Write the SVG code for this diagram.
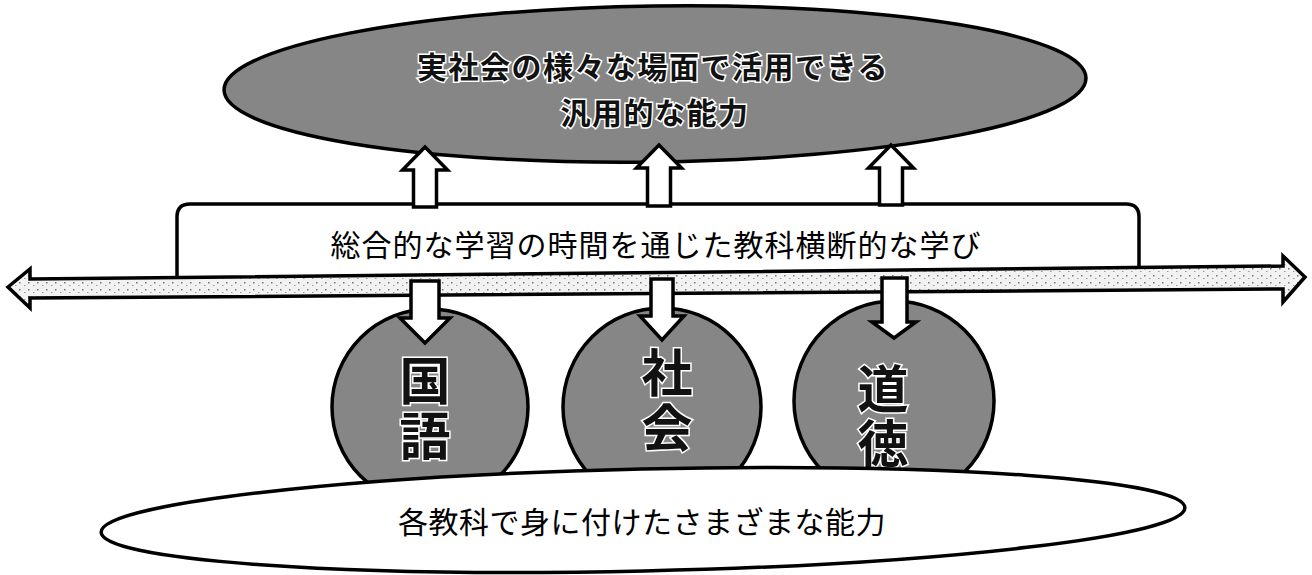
<svg xmlns="http://www.w3.org/2000/svg" width="1312" height="575" viewBox="0 0 1312 575">
<style>
.outline{stroke:#000;stroke-width:3.5;}
.gray{fill:#868686;}
.arrow{fill:#fff;stroke:#000;stroke-width:3.5;stroke-linejoin:miter;}
.halo{font-family:"Noto Sans CJK JP","Noto Sans CJK SC",sans-serif;font-weight:bold;fill:#111;stroke:#fff;stroke-width:3;paint-order:stroke;text-anchor:middle;}
.big{font-size:51px;writing-mode:vertical-rl;text-anchor:start;letter-spacing:4px;}
.plain{font-family:"Noto Sans CJK JP","Noto Sans CJK SC",sans-serif;fill:#000;text-anchor:middle;}
</style>
<defs>
<pattern id="speck" width="9" height="7" patternUnits="userSpaceOnUse">
<rect width="9" height="7" fill="#f2f2f2"/>
<rect x="1" y="2" width="1.5" height="1.5" fill="#777"/>
<rect x="6" y="5" width="1.5" height="1" fill="#999"/>
</pattern>
</defs>
<rect width="1312" height="575" fill="#fff"/>

<g id="node-top">
<ellipse cx="655" cy="84" rx="431" ry="78" class="gray outline" transform="rotate(-0.8 655 84)"/>
<text class="halo" x="653" y="78" font-size="30" letter-spacing="1.5">実社会の様々な場面で活用できる</text>
<text class="halo" x="655" y="124" font-size="30" letter-spacing="1.5">汎用的な能力</text>
</g>

<g id="node-rect">
<path d="M177,288 V217 Q177,204 190,204 H1126 Q1139,204 1139,217 V278" fill="#fff" class="outline"/>
<text class="plain" x="656" y="256" font-size="30" letter-spacing="1">総合的な学習の時間を通じた教科横断的な学び</text>
</g>

<g id="node-kokugo">
<circle cx="430" cy="407" r="98" class="gray outline"/>
<text class="halo big" x="425" y="355">国語</text>
</g>
<g id="node-shakai">
<circle cx="662" cy="407" r="99" class="gray outline"/>
<text class="halo big" x="667" y="347">社会</text>
</g>
<g id="node-doutoku">
<circle cx="894" cy="401" r="100" class="gray outline"/>
<text class="halo big" x="883" y="363">道徳</text>
</g>

<g id="connectors">
<polygon class="arrow" points="425,147 447.5,170 436.5,170 436.5,207 413.5,207 413.5,170 402.5,170"/>
<polygon class="arrow" points="659,145 681.5,168 670.5,168 670.5,206 647.5,206 647.5,168 636.5,168"/>
<polygon class="arrow" points="891,145 913.5,168 902.5,168 902.5,205 879.5,205 879.5,168 868.5,168"/>
<polygon points="8,287 30,269 30,279 1283,266 1283,256 1305,277 1283,302 1283,289 30,298 30,308" fill="url(#speck)" stroke="#000" stroke-width="3.5" stroke-linejoin="miter"/>
<polygon class="arrow" points="411,281 439,281 439,318 450,318 425,343 400,318 411,318"/>
<polygon class="arrow" points="651,279 673,279 673,316 684,316 662,340 640,316 651,316"/>
<polygon class="arrow" points="882,278 907,278 907,322 916,322 894,338 872,322 882,322"/>
</g>

<g id="node-bottom">
<ellipse cx="643" cy="520" rx="542" ry="51" fill="#fff" class="outline" transform="rotate(-1.3 643 520)"/>
<text class="plain" x="642" y="533" font-size="30" letter-spacing="0.5">各教科で身に付けたさまざまな能力</text>
</g>
</svg>
